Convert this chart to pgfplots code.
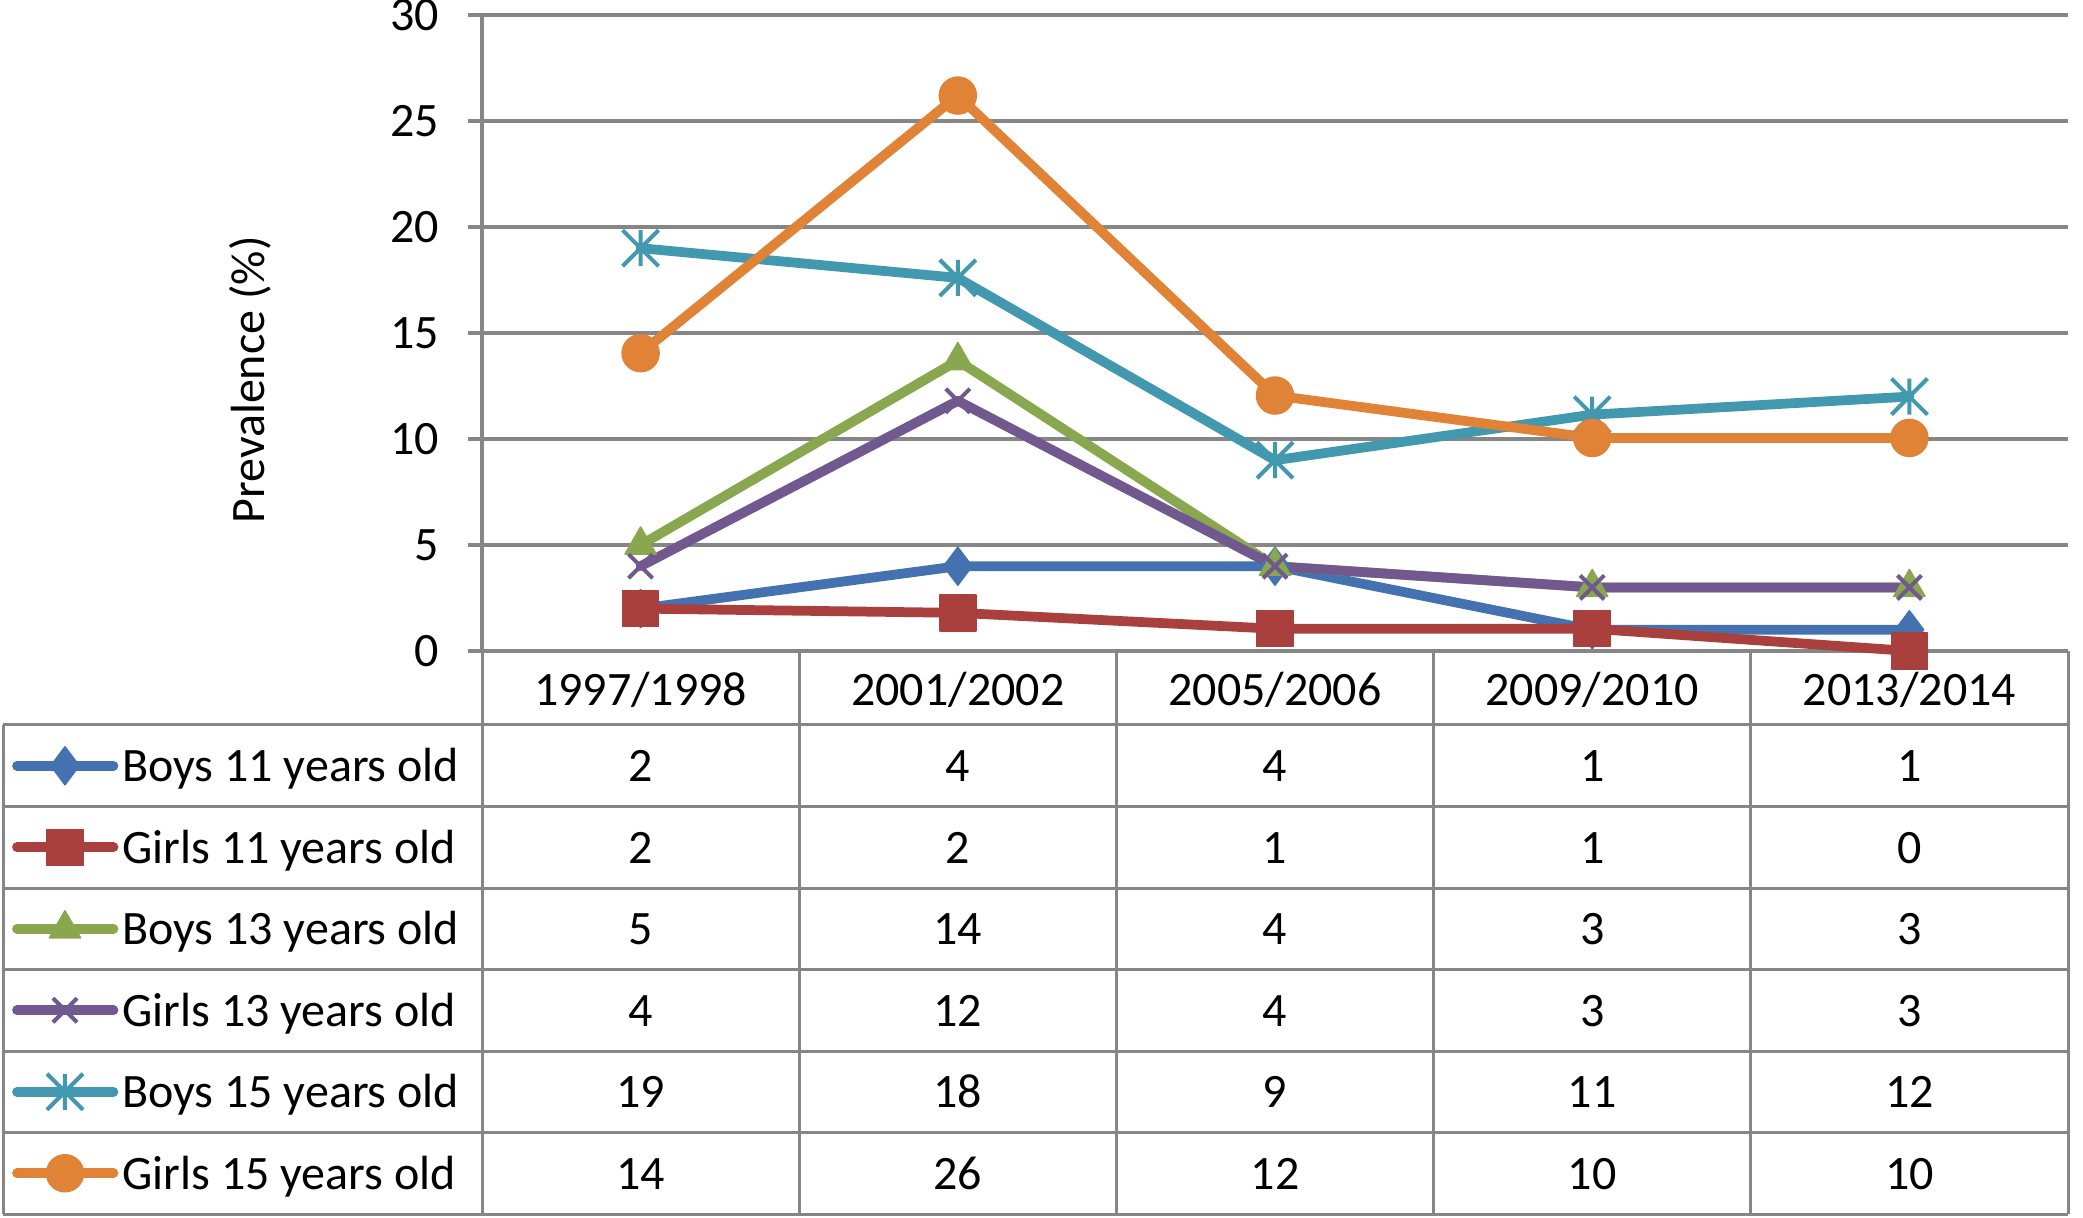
\documentclass[border=0pt]{standalone}
\usepackage{fontspec}
\setmainfont{Carlito}
\usepackage{pgfplots}
\pgfplotsset{compat=1.18}

\definecolor{cBlue}{RGB}{68,114,176}
\definecolor{cRed}{RGB}{170,64,62}
\definecolor{cGreen}{RGB}{137,167,78}
\definecolor{cPurple}{RGB}{113,88,143}
\definecolor{cAqua}{RGB}{65,152,175}
\definecolor{cOrange}{RGB}{224,131,55}
\definecolor{gridgray}{RGB}{134,134,134}

\pgfdeclareplotmark{xstar}{%
  \pgfpathmoveto{\pgfqpoint{-\pgfplotmarksize}{-\pgfplotmarksize}}%
  \pgfpathlineto{\pgfqpoint{\pgfplotmarksize}{\pgfplotmarksize}}%
  \pgfpathmoveto{\pgfqpoint{-\pgfplotmarksize}{\pgfplotmarksize}}%
  \pgfpathlineto{\pgfqpoint{\pgfplotmarksize}{-\pgfplotmarksize}}%
  \pgfpathmoveto{\pgfqpoint{0pt}{-\pgfplotmarksize}}%
  \pgfpathlineto{\pgfqpoint{0pt}{\pgfplotmarksize}}%
  \pgfusepathqstroke}

\begin{document}
\begin{tikzpicture}[font=\fontsize{9.6}{11.5}\selectfont]
\useasboundingbox (0,0) rectangle (416.6pt,243.4pt);
\begin{axis}[
  at={(96.4pt,113.2pt)}, anchor=south west,
  width=317.2pt, height=127.2pt, scale only axis,
  xmin=-0.5, xmax=4.5, ymin=0, ymax=30,
  clip=false,
  axis lines*=left,
  axis line style={draw=gridgray, line width=0.7pt},
  ymajorgrids,
  grid style={gridgray, line width=0.7pt},
  ytick={0,5,10,15,20,25,30},
  xtick={0,1,2,3,4},
  xticklabels={1997/1998,2001/2002,2005/2006,2009/2010,2013/2014},
  tick align=outside,
  major tick length=2.8pt,
  ytick style={draw=gridgray, line width=0.7pt},
  xtick style={draw=none},
  tick label style={font=\fontsize{9.6}{11.5}\selectfont, /pgf/number format/assume math mode=true},
  yticklabel style={anchor=east, inner sep=0pt, text height=0.63em, text depth=0pt, xshift=-5.6pt},
  xticklabel style={anchor=center, inner sep=0pt, text height=0.63em, text depth=0pt, yshift=-4.9pt},
  ylabel={Prevalence (\%)},
  ylabel style={at={(axis description cs:-0.14502,0.4261)}, anchor=center, text height=0.75em, text depth=0.25em, inner sep=0pt},
  every axis plot/.append style={line width=1.95pt, line cap=round, line join=round},
  legend cell align=left,
  legend style={draw=none, fill=none, inner sep=0pt, outer sep=0pt, row sep=0pt, column sep=0.8pt,
    at={(axis description cs:-0.30202,-0.11635)}, anchor=north west,
    nodes={inner sep=0pt, text height=0.644em, text depth=0pt, minimum height=16.3pt, anchor=west}},
  legend image code/.code={%
    \path[draw=none, fill=none] (0pt,0pt) -- (22.4pt,0pt);
    \draw[mark repeat=2,mark phase=2,#1] plot coordinates {(2.8pt,0pt) (12.4pt,0pt) (22.1pt,0pt)};
  },
]
\addplot[color=cBlue, mark=diamond*, mark size=3.8pt, mark options={solid, line width=0.3pt}]
  coordinates {(0,2) (1,4) (2,4) (3,1) (4,1)};
\addlegendentry{Boys 11 years old}
\addplot[color=cRed, mark=square*, mark size=3.6pt, mark options={solid, line width=0.3pt}]
  coordinates {(0,2) (1,1.8) (2,1.05) (3,1.05) (4,0)};
\addlegendentry{Girls 11 years old}
\addplot[color=cGreen, mark=triangle*, mark size=3.6pt, mark options={solid, line width=0.3pt}]
  coordinates {(0,5) (1,13.7) (2,4) (3,3) (4,3)};
\addlegendentry{Boys 13 years old}
\addplot[color=cPurple, mark=x, mark size=3.4pt, mark options={solid, line width=0.8pt, line cap=butt}]
  coordinates {(0,4) (1,11.8) (2,4) (3,3) (4,3)};
\addlegendentry{Girls 13 years old}
\addplot[color=cAqua, mark=xstar, mark size=3.6pt, mark options={solid, line width=0.8pt, line cap=butt}]
  coordinates {(0,19) (1,17.6) (2,9) (3,11.15) (4,12)};
\addlegendentry{Boys 15 years old}
\addplot[color=cOrange, mark=*, mark size=3.7pt, mark options={solid, line width=0.3pt}]
  coordinates {(0,14.05) (1,26.2) (2,12.05) (3,10.05) (4,10.05)};
\addlegendentry{Girls 15 years old}
\end{axis}
% data table grid
\begin{scope}[draw=gridgray, line width=0.6pt]
  \foreach \y in {98.4,82.1,65.8,49.5,33.2,16.9,0.6}
    \draw (0.6pt,\y pt) -- (413.6pt,\y pt);
  \draw (0.6pt,98.4pt) -- (0.6pt,0.6pt);
  \foreach \x in {96.4,159.84,223.28,286.72,350.16,413.6}
    \draw (\x pt,113.2pt) -- (\x pt,0.6pt);
\end{scope}
% data table values (rounded, as printed in the table)
\begin{scope}[every node/.style={inner sep=0pt, text height=0.63em, text depth=0pt, anchor=center}]
  \foreach \v [count=\i from 0] in {2,4,4,1,1}
    \node at (128.12pt+\i*63.44pt, 90.25pt) {\v};
  \foreach \v [count=\i from 0] in {2,2,1,1,0}
    \node at (128.12pt+\i*63.44pt, 73.95pt) {\v};
  \foreach \v [count=\i from 0] in {5,14,4,3,3}
    \node at (128.12pt+\i*63.44pt, 57.65pt) {\v};
  \foreach \v [count=\i from 0] in {4,12,4,3,3}
    \node at (128.12pt+\i*63.44pt, 41.35pt) {\v};
  \foreach \v [count=\i from 0] in {19,18,9,11,12}
    \node at (128.12pt+\i*63.44pt, 25.05pt) {\v};
  \foreach \v [count=\i from 0] in {14,26,12,10,10}
    \node at (128.12pt+\i*63.44pt, 8.75pt) {\v};
\end{scope}
\end{tikzpicture}
\end{document}
